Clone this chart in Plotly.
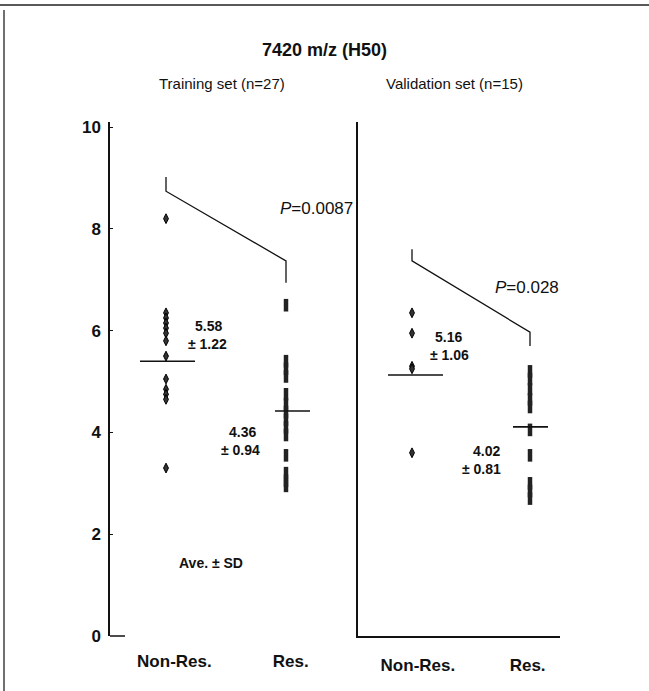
import plotly.graph_objects as go

# ---------------- data ----------------
categories = ["Non-Res.", "Res."]
train_nonres = [8.2, 6.35, 6.25, 6.15, 6.05, 5.95, 5.8, 5.5, 5.05, 4.85, 4.75, 4.65, 3.3]
train_res = [6.5, 5.4, 5.25, 5.1, 4.75, 4.55, 4.4, 4.25, 4.1, 3.95, 3.55, 3.2, 3.05, 2.95]
valid_nonres = [6.35, 5.95, 5.3, 5.25, 3.6]
valid_res = [5.2, 5.05, 4.85, 4.65, 4.5, 4.05, 3.55, 3.0, 2.85, 2.7]
# horizontal mean bars as drawn
train_mean_bars = [5.40, 4.42]
valid_mean_bars = [5.13, 4.11]
# significance brackets (y values of the four bracket corners)
train_bracket = [9.02, 8.74, 7.37, 6.94]
valid_bracket = [7.60, 7.37, 5.97, 5.70]
stats_text = {
    "train_nonres": ["5.58", "± 1.22"],
    "train_res": ["4.36", "± 0.94"],
    "valid_nonres": ["5.16", "± 1.06"],
    "valid_res": ["4.02", "± 0.81"],
}
p_values = ["0.0087", "0.028"]
y_ticks = [0, 2, 4, 6, 8, 10]

# ---------------- layout helpers ----------------
W, H = 649, 691
FONT = "Liberation Sans, Arial, Helvetica, sans-serif"


def px(x):
    return x / W


def py(y):
    return 1 - y / H


# plot geometry (pixels)
Y0_PX, YTOP_PX = 636, 122
Y_MAX = 10.1
P1_L, P1_R = 110, 358
P2_L, P2_R = 358, 560
p1_pos = (166, 286)
p2_pos = (412, 530)
u1 = p1_pos[1] - p1_pos[0]
u2 = p2_pos[1] - p2_pos[0]
x1_range = [(P1_L - p1_pos[0]) / u1, (P1_R - p1_pos[0]) / u1]
x2_range = [(P2_L - p2_pos[0]) / u2, (P2_R - p2_pos[0]) / u2]

fig = go.Figure()

diamond = dict(symbol="diamond-tall", size=7, color="#333", line=dict(color="#000", width=1))
bar = dict(symbol="line-ns-open", size=9, color="#222", line=dict(color="#222", width=4.5))

fig.add_trace(go.Scatter(x=[0] * len(train_nonres), y=train_nonres, mode="markers",
                         marker=diamond, xaxis="x", yaxis="y", showlegend=False))
fig.add_trace(go.Scatter(x=[1] * len(train_res), y=train_res, mode="markers",
                         marker=bar, xaxis="x", yaxis="y", showlegend=False))
fig.add_trace(go.Scatter(x=[0] * len(valid_nonres), y=valid_nonres, mode="markers",
                         marker=diamond, xaxis="x2", yaxis="y2", showlegend=False))
fig.add_trace(go.Scatter(x=[1] * len(valid_res), y=valid_res, mode="markers",
                         marker=bar, xaxis="x2", yaxis="y2", showlegend=False))

# brackets
fig.add_trace(go.Scatter(x=[0, 0, 1, 1], y=train_bracket, mode="lines",
                         line=dict(color="#111", width=1.3), xaxis="x", yaxis="y",
                         showlegend=False, hoverinfo="skip"))
fig.add_trace(go.Scatter(x=[0, 0, 1, 1], y=valid_bracket, mode="lines",
                         line=dict(color="#111", width=1.3), xaxis="x2", yaxis="y2",
                         showlegend=False, hoverinfo="skip"))

# mean bars (pixel half extents: left, right)
bar_ext_1 = [(26, 29), (11, 24)]
bar_ext_2 = [(24, 31), (17, 18)]
for i, (val, ext) in enumerate(zip(train_mean_bars, bar_ext_1)):
    fig.add_shape(type="line", xref="x", yref="y", x0=i - ext[0] / u1, x1=i + ext[1] / u1,
                  y0=val, y1=val, line=dict(color="#111", width=1.6))
for i, (val, ext) in enumerate(zip(valid_mean_bars, bar_ext_2)):
    fig.add_shape(type="line", xref="x2", yref="y2", x0=i - ext[0] / u2, x1=i + ext[1] / u2,
                  y0=val, y1=val, line=dict(color="#111", width=1.6))

# bottom stub of panel 1 axis and frame lines
fig.add_shape(type="line", xref="paper", yref="paper", x0=px(P1_L), x1=px(P1_L + 15),
              y0=py(Y0_PX), y1=py(Y0_PX), line=dict(color="#111", width=1.5))
fig.add_shape(type="line", xref="paper", yref="paper", x0=0, x1=1,
              y0=py(5), y1=py(5), line=dict(color="#222", width=1.5))
fig.add_shape(type="line", xref="paper", yref="paper", x0=px(4), x1=px(4),
              y0=py(10), y1=0, line=dict(color="#222", width=1.3))

ydom = [py(Y0_PX), py(YTOP_PX)]
axis_common = dict(showgrid=False, zeroline=False, automargin=False)
fig.update_layout(
    width=W, height=H,
    margin=dict(l=0, r=0, t=0, b=0),
    paper_bgcolor="white", plot_bgcolor="rgba(0,0,0,0)",
    font=dict(family=FONT, color="#111"),
    xaxis=dict(domain=[px(P1_L), px(P1_R)], range=x1_range, showline=False,
               tickvals=[0.07, 1.04], ticktext=categories, ticks="", ticklabelstandoff=13,
               tickfont=dict(size=17, weight="bold", family=FONT), **axis_common),
    yaxis=dict(domain=ydom, range=[0, Y_MAX], showline=True, linecolor="#111", linewidth=1.5,
               tickvals=y_ticks, ticks="inside", ticklen=3, tickcolor="#111",
               ticklabelstandoff=4,
               tickfont=dict(size=17, weight="bold", family=FONT), **axis_common),
    xaxis2=dict(domain=[px(P2_L), px(P2_R)], range=x2_range, showline=True,
                linecolor="#111", linewidth=1.5, anchor="y2",
                tickvals=[0.05, 0.98], ticktext=categories, ticks="", ticklabelstandoff=13,
                tickfont=dict(size=17, weight="bold", family=FONT), **axis_common),
    yaxis2=dict(domain=ydom, range=[0, Y_MAX], showline=True, linecolor="#111", linewidth=1.5,
                anchor="x2", showticklabels=False, ticks="", **axis_common),
)


def note(text, x, y, size, bold=False, xanchor="center"):
    fig.add_annotation(text=text, x=px(x), y=py(y), xref="paper", yref="paper",
                       showarrow=False, xanchor=xanchor, yanchor="middle",
                       font=dict(size=size, family=FONT, color="#111",
                                 weight="bold" if bold else "normal"))


note("7420 m/z (H50)", 324, 50, 18, bold=True)
note("Training set (n=27)", 222, 83, 15)
note("Validation set (n=15)", 454, 83, 15)
note("<i>P</i>=" + p_values[0], 316, 208, 17)
note("<i>P</i>=" + p_values[1], 527, 287, 17)

note(stats_text["train_nonres"][0], 193, 326, 14, bold=True, xanchor="left")
note(stats_text["train_nonres"][1], 186, 344, 14, bold=True, xanchor="left")
note(stats_text["train_res"][0], 242, 432, 14, bold=True)
note(stats_text["train_res"][1], 240, 450, 14, bold=True)
note(stats_text["valid_nonres"][0], 433, 337, 14, bold=True, xanchor="left")
note(stats_text["valid_nonres"][1], 428, 355, 14, bold=True, xanchor="left")
note(stats_text["valid_res"][0], 486, 451, 14, bold=True)
note(stats_text["valid_res"][1], 481, 469, 14, bold=True)
note("Ave. ± SD", 211, 563, 14, bold=True)

fig.write_html("out.html")
